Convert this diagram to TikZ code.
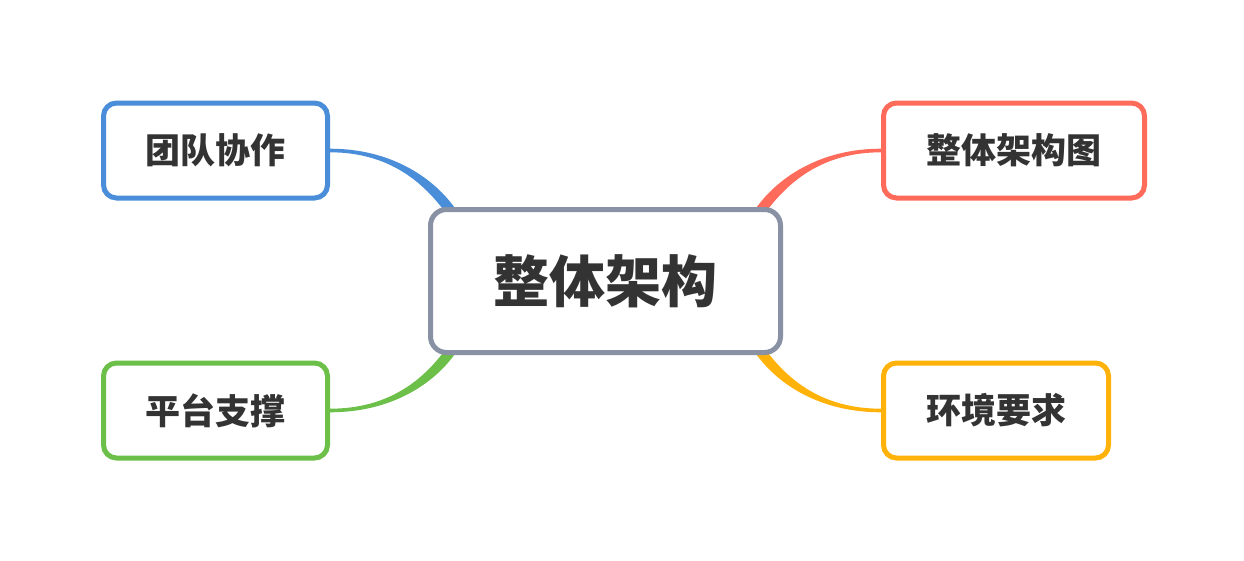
\documentclass[tikz,border=0pt]{standalone}
\usepackage{fontspec}
\newfontfamily\cjk{Noto Sans CJK SC}
\usetikzlibrary{calc,backgrounds}
\definecolor{rootgray}{HTML}{8892A4}
\definecolor{teamblue}{HTML}{4A8DD8}
\definecolor{archred}{HTML}{FF6B5B}
\definecolor{platgreen}{HTML}{6CC04A}
\definecolor{envorange}{HTML}{FFB20A}
\definecolor{txt}{HTML}{333333}
\tikzset{
  topic/.style={draw, fill=white, line width=5pt, rounded corners=13pt,
    text=txt, font=\cjk\bfseries\fontsize{35}{40}\selectfont,
    minimum width=224pt, minimum height=95pt, inner sep=0pt},
  roottopic/.style={topic, draw=rootgray, rounded corners=16pt,
    font=\cjk\bfseries\fontsize{56}{62}\selectfont,
    minimum width=350pt, minimum height=143pt}
}
\begin{document}
\begin{tikzpicture}[x=1pt, y=-1pt]
            \useasboundingbox (0,0) rectangle (1244,560);
            \node[roottopic] (root) at (605.5,281) {整体架构};
            \node[topic, draw=teamblue] (team) at (215.5,150.5) {团队协作};
            \node[topic, draw=platgreen] (platform) at (215.5,410.5) {平台支撑};
            \node[topic, draw=archred, minimum width=261pt] (arch) at (1014,150.5) {整体架构图};
            \node[topic, draw=envorange, minimum width=225pt] (env) at (996,410.5) {环境要求};
            \begin{pgfonlayer}{background}
            \fill[teamblue] ($(team.east)+(0,-1.8)$) .. controls +(60,0) and +(-22,-30) .. ($(root.north west)+(26,-0.2)$)
                -- ($(root.north west)+(18,6.2)$) .. controls +(-22,-30) and +(60,0) .. ($(team.east)+(0,1.8)$) -- cycle ;
            \fill[archred] ($(arch.west)+(0,-1.8)$) .. controls +(-60,0) and +(22,-30) .. ($(root.north east)+(-26,-0.2)$)
                -- ($(root.north east)+(-18,6.2)$) .. controls +(22,-30) and +(-60,0) .. ($(arch.west)+(0,1.8)$) -- cycle ;
            \fill[platgreen] ($(platform.east)+(0,1.8)$) .. controls +(60,0) and +(-22,30) .. ($(root.south west)+(26,0.2)$)
                -- ($(root.south west)+(18,-6.2)$) .. controls +(-22,30) and +(60,0) .. ($(platform.east)+(0,-1.8)$) -- cycle ;
            \fill[envorange] ($(env.west)+(0,1.8)$) .. controls +(-60,0) and +(22,30) .. ($(root.south east)+(-26,0.2)$)
                -- ($(root.south east)+(-18,-6.2)$) .. controls +(22,30) and +(-60,0) .. ($(env.west)+(0,-1.8)$) -- cycle ;
            \end{pgfonlayer}
        \end{tikzpicture}
\end{document}
